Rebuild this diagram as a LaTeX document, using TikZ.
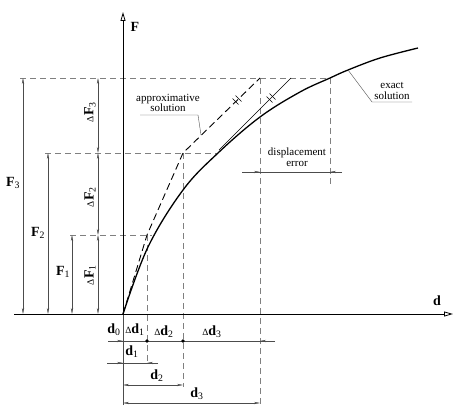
\documentclass[tikz,border=0pt]{standalone}
\usepackage{fontspec}
\setmainfont{Liberation Serif}
\usetikzlibrary{arrows.meta}
\newcommand{\tri}{{\fontsize{9.5}{9.5}\selectfont\mdseries Δ}}
\newcommand{\sub}[1]{\textsubscript{\mdseries #1}}

\begin{document}
\begin{tikzpicture}[x=1pt,y=1pt,
    helper/.style={gray,dash pattern=on 6pt off 4pt,line width=.5pt},
    dimline/.style={black!70,line width=.4pt},
    tip/.style={-{Stealth[length=6pt,width=2.2pt]}},
    twotip/.style={{Stealth[length=6pt,width=2.2pt]}-{Stealth[length=6pt,width=2.2pt]}},
    axis/.style={line width=.8pt,-{Triangle[open,length=9pt,width=5pt]}},
    lbl/.style={font=\fontsize{14}{16}\selectfont\bfseries,inner sep=0pt},
    note/.style={font=\fontsize{11}{10.5}\selectfont,align=center,inner sep=0pt}]
        \useasboundingbox (0,0) rectangle (455,405);
        \coordinate (O) at (123,91);
        \coordinate (A1) at (147,170);
        \coordinate (A2) at (183,252);
        \coordinate (A3) at (260,327);
        \coordinate (E1) at (152,170);
        \coordinate (E2) at (218,252);
        \coordinate (E3) at (330,327);
        \coordinate (Ftop) at (123,393);
        \coordinate (Fbot) at (123,0);
        \coordinate (dl) at (14,91);
        \coordinate (dr) at (453,91);
        \draw[helper] (20,327) -- (E3);
        \draw[helper] (45,252) -- (E2);
        \draw[helper] (70,170) -- (E1);
        \draw[helper] (A1) -- (147,42);
        \draw[helper] (A2) -- (183,18);
        \draw[helper] (A3) -- (260,0);
        \draw[helper] (E3) -- (330,220);
        \draw[dimline] (Fbot) -- (O);
        \draw[axis] (O) -- (Ftop);
        \draw[axis] (dl) -- (dr);
        \draw[line width=1.3pt] plot[smooth,tension=.6] coordinates {(123,91) (148,158) (183,215) (218,252) (260,288) (300,313) (330,327) (348,335) (380,347) (418,357)};
        \draw[line width=.9pt,dash pattern=on 7pt off 4pt] (O) -- (A1) -- (A2) -- (A3);
        \draw[line width=.4pt] (219,255) -- (291,327);
        \draw[line width=.5pt,shift={(237,305)}] (-4.5,1.5) -- (1.5,-4.5) (-1.5,4.5) -- (4.5,-1.5);
        \draw[line width=.5pt,shift={(271,307)}] (-4.5,1.5) -- (1.5,-4.5) (-1.5,4.5) -- (4.5,-1.5);
        \draw[dimline,twotip] (23,91) -- (23,327);
        \draw[dimline,twotip] (48,91) -- (48,252);
        \draw[dimline,twotip] (72,91) -- (72,170);
        \draw[dimline,twotip] (98,91) -- (98,170);
        \draw[dimline,twotip] (98,170) -- (98,252);
        \draw[dimline,twotip] (98,252) -- (98,327);
        \draw[dimline] (108,64) -- (275,64);
        \draw[dimline,tip] (108,64) -- (123,64);
        \draw[dimline,tip] (275,64) -- (260,64);
        \fill (147,64) circle (1.8);
        \fill (183,64) circle (1.8);
        \draw[dimline] (107,42) -- (158,42);
        \draw[dimline,tip] (107,42) -- (123,42);
        \draw[dimline,tip] (158,42) -- (147,42);
        \draw[dimline,twotip] (123,20) -- (183,20);
        \draw[dimline,twotip] (123,2) -- (260,2);
        \draw[dimline] (242,233) -- (342,233);
        \draw[dimline,tip] (242,233) -- (260,233);
        \draw[dimline,tip] (342,233) -- (330,233);
        \draw[dimline] (201,270) -- (198,290) -- (140,290);
        \draw[dimline] (348,335) -- (372,303) -- (412,303);
        \node[lbl] (lF) at (135,378) {F};
        \node[lbl] (ld) at (437,104) {d};
        \node[lbl] (lF3) at (13,222) {F\sub{3}};
        \node[lbl] (lF2) at (38,172) {F\sub{2}};
        \node[lbl] (lF1) at (63,133) {F\sub{1}};
        \node[lbl,rotate=90] (ldF3) at (90,293) {\tri F\sub{3}};
        \node[lbl,rotate=90] (ldF2) at (90,208) {\tri F\sub{2}};
        \node[lbl,rotate=90] (ldF1) at (90,130) {\tri F\sub{1}};
        \node[lbl] (ld0) at (114,75) {d\sub{0}};
        \node[lbl] (ldd1) at (135,75) {\tri d\sub{1}};
        \node[lbl] (ldd2) at (164,73) {\tri d\sub{2}};
        \node[lbl] (ldd3) at (212,73) {\tri d\sub{3}};
        \node[lbl] (ld1) at (132,53) {d\sub{1}};
        \node[lbl] (ld2) at (157,29) {d\sub{2}};
        \node[lbl] (ld3) at (197,11) {d\sub{3}};
        \node[note] (approx) at (168,302) {approximative\\solution};
        \node[note] (exact) at (392,314) {exact\\solution};
        \node[note] (disp) at (297,248) {displacement\\error};
\end{tikzpicture}
\end{document}
